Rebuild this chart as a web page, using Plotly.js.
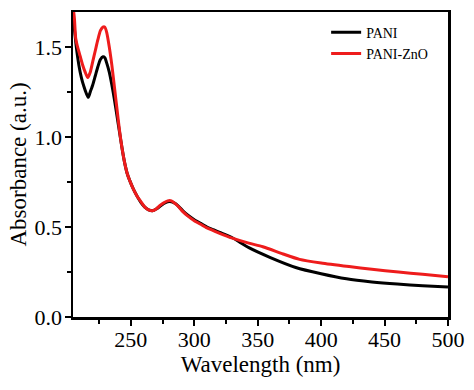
<!DOCTYPE html>
<html><head><meta charset="utf-8">
<script src="https://cdn.plot.ly/plotly-3.0.1.min.js"></script>
<style>html,body{margin:0;padding:0;background:#fff}#chart{width:474px;height:390px}</style>
</head><body><div id="chart"></div>
<script>
const wlPANI = [204.5,205.5,207,209,211,213,215,216.5,218,220,222,224,226,228,229.5,231,233,235,237,239,241,243,245,247,249,252,255,258,261,264,267,270,273,276,279,282,285,288,291,295,300,305,310,315,320,330,343,360,380,400,420,440,460,480,500];
const absPANI = [1.66,1.60,1.50,1.40,1.33,1.28,1.24,1.22,1.25,1.29,1.34,1.39,1.43,1.445,1.44,1.41,1.36,1.29,1.21,1.12,1.03,0.94,0.86,0.80,0.76,0.71,0.67,0.635,0.61,0.595,0.59,0.60,0.615,0.63,0.64,0.64,0.63,0.612,0.59,0.565,0.54,0.52,0.50,0.485,0.47,0.44,0.385,0.33,0.275,0.24,0.212,0.195,0.183,0.174,0.167];
const wlZnO = [204.5,205.5,206.5,208,210,212,214,216,218,220,222,224,226,228,229.5,231,233,235,237,239,241,243,245,247,249,252,255,258,261,264,267,270,273,276,279,282,285,288,291,295,300,305,310,315,320,330,343,354,370,383,400,422,440,461,480,500];
const absZnO = [1.72,1.66,1.55,1.50,1.45,1.40,1.36,1.33,1.36,1.42,1.48,1.54,1.59,1.61,1.61,1.58,1.50,1.40,1.28,1.16,1.04,0.94,0.86,0.80,0.76,0.71,0.67,0.64,0.61,0.595,0.59,0.60,0.62,0.635,0.645,0.645,0.63,0.61,0.585,0.56,0.535,0.515,0.495,0.48,0.465,0.438,0.41,0.39,0.35,0.32,0.30,0.28,0.265,0.25,0.237,0.223];
const seriesNames = ['PANI','PANI-ZnO'];
const xTicks = [250,300,350,400,450,500];
const yTicks = [0,0.5,1.0,1.5];

const FAM = 'Liberation Serif';
const traces = [
  {x: wlPANI, y: absPANI, name: seriesNames[0], mode:'lines', line:{color:'#000000', width:3, shape:'spline', smoothing:0.6}},
  {x: wlZnO, y: absZnO, name: seriesNames[1], mode:'lines', line:{color:'#ee1c1c', width:3, shape:'spline', smoothing:0.6}}
];
function axisBase() {
  return {
    showgrid:false, zeroline:false, showline:true, linewidth:2.5, linecolor:'#000', mirror:true,
    ticks:'outside', ticklen:6, tickwidth:2, tickcolor:'#000',
    tickfont:{family:FAM, size:22, color:'#000'}
  };
}
const layout = {
  width:474, height:390,
  font:{family:FAM, size:22, color:'#000'},
  margin:{l:73, r:26, t:12, b:73},
  paper_bgcolor:'#fff', plot_bgcolor:'#fff',
  showlegend:true,
  legend:{x:0.675, y:0.985, xanchor:'left', yanchor:'top', font:{family:FAM, size:14, color:'#000'}, bgcolor:'rgba(0,0,0,0)', tracegroupgap:0, itemwidth:30},
  xaxis: Object.assign(axisBase(), {
    range:[204.4,500], tickvals:xTicks, ticktext:xTicks.map(String), ticklabelstandoff:-5,
    minor:{dtick:50, tick0:225, ticks:'outside', ticklen:4, tickwidth:2, tickcolor:'#000', showgrid:false},
    title:{text:'Wavelength (nm)', font:{family:FAM, size:23, color:'#000'}, standoff:0}
  }),
  yaxis: Object.assign(axisBase(), {
    range:[0,1.694], tickvals:yTicks, ticktext:yTicks.map(v=>v.toFixed(1)), ticklabelstandoff:-2,
    minor:{dtick:0.5, tick0:0.25, ticks:'outside', ticklen:4, tickwidth:2, tickcolor:'#000', showgrid:false},
    title:{text:'Absorbance (a.u.)', font:{family:FAM, size:23, color:'#000'}, standoff:2}
  })
};
Plotly.newPlot('chart', traces, layout, {displayModeBar:false, staticPlot:true});
</script></body></html>
